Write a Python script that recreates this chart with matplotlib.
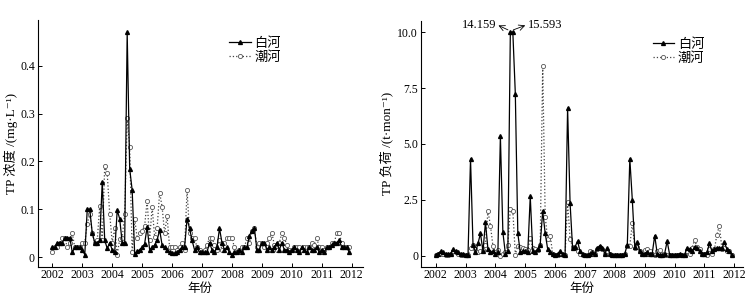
import numpy as np
import matplotlib
matplotlib.use('Agg')
import matplotlib.pyplot as plt

plt.rcParams['font.family'] = ['Liberation Serif', 'Noto Sans CJK SC', 'DejaVu Sans']

# monthly data, Jan 2002 - Dec 2011
months = 2002 + np.arange(120) / 12.0

# TP concentration (mg/L)
bai_conc = [0.02, 0.02, 0.03, 0.03, 0.03, 0.04, 0.04, 0.04, 0.01, 0.02, 0.02, 0.02,
            0.015, 0.005, 0.10, 0.10, 0.05, 0.03, 0.03, 0.035, 0.157, 0.035, 0.018, 0.03,
            0.015, 0.01, 0.098, 0.08, 0.03, 0.03, 0.47, 0.185, 0.14, 0.007, 0.012, 0.015,
            0.02, 0.028, 0.063, 0.015, 0.02, 0.025, 0.035, 0.057, 0.025, 0.02, 0.015, 0.01,
            0.008, 0.008, 0.01, 0.015, 0.02, 0.02, 0.08, 0.06, 0.035, 0.015, 0.02, 0.01,
            0.01, 0.01, 0.01, 0.03, 0.015, 0.01, 0.02, 0.06, 0.03, 0.015, 0.02, 0.01,
            0.005, 0.01, 0.01, 0.015, 0.01, 0.02, 0.02, 0.045, 0.055, 0.06, 0.015, 0.015,
            0.03, 0.03, 0.015, 0.02, 0.015, 0.02, 0.03, 0.015, 0.03, 0.015, 0.015, 0.01,
            0.015, 0.02, 0.015, 0.01, 0.02, 0.015, 0.01, 0.02, 0.015, 0.015, 0.02, 0.01,
            0.015, 0.01, 0.02, 0.02, 0.025, 0.03, 0.03, 0.035, 0.02, 0.02, 0.02, 0.01]
chao_conc = [0.01, 0.02, 0.02, 0.03, 0.04, 0.04, 0.02, 0.03, 0.05, 0.02, 0.02, 0.02,
             0.03, 0.03, 0.07, 0.09, 0.05, 0.03, 0.035, 0.107, 0.035, 0.19, 0.175, 0.09,
             0.03, 0.06, 0.005, 0.037, 0.04, 0.09, 0.29, 0.23, 0.01, 0.08, 0.04, 0.05,
             0.055, 0.065, 0.118, 0.035, 0.105, 0.042, 0.06, 0.135, 0.105, 0.05, 0.085, 0.02,
             0.02, 0.02, 0.015, 0.02, 0.03, 0.015, 0.14, 0.05, 0.04, 0.04, 0.02, 0.015,
             0.01, 0.015, 0.025, 0.04, 0.04, 0.025, 0.015, 0.035, 0.015, 0.03, 0.04, 0.04,
             0.04, 0.02, 0.01, 0.015, 0.02, 0.02, 0.04, 0.03, 0.055, 0.06, 0.02, 0.03,
             0.03, 0.02, 0.03, 0.04, 0.05, 0.025, 0.015, 0.03, 0.05, 0.04, 0.025, 0.015,
             0.015, 0.02, 0.02, 0.02, 0.015, 0.02, 0.02, 0.02, 0.03, 0.025, 0.04, 0.02,
             0.02, 0.015, 0.02, 0.02, 0.03, 0.03, 0.05, 0.05, 0.03, 0.02, 0.02, 0.02]

# TP load (t/mon)
bai_load = [0.05, 0.1, 0.2, 0.15, 0.1, 0.1, 0.1, 0.3, 0.2, 0.15, 0.1, 0.1,
            0.05, 0.05, 4.33, 0.5, 0.15, 0.55, 1.0, 0.2, 1.5, 0.3, 0.15, 0.2,
            0.1, 0.15, 5.35, 1.05, 0.1, 0.2, 14.159, 15.593, 7.25, 1.0, 0.15, 0.2,
            0.2, 0.15, 2.65, 0.2, 0.15, 0.3, 0.5, 2.0, 1.0, 0.3, 0.15, 0.1,
            0.05, 0.1, 0.2, 0.1, 0.05, 6.6, 2.35, 0.35, 0.4, 0.65, 0.2, 0.1,
            0.05, 0.05, 0.1, 0.15, 0.1, 0.35, 0.45, 0.35, 0.1, 0.35, 0.1, 0.05,
            0.05, 0.05, 0.05, 0.05, 0.1, 0.5, 4.33, 2.5, 0.4, 0.6, 0.2, 0.1,
            0.1, 0.15, 0.1, 0.1, 0.9, 0.1, 0.05, 0.05, 0.1, 0.65, 0.05, 0.05,
            0.05, 0.05, 0.1, 0.05, 0.05, 0.35, 0.3, 0.2, 0.4, 0.35, 0.2, 0.1,
            0.1, 0.15, 0.55, 0.2, 0.3, 0.35, 0.35, 0.35, 0.6, 0.3, 0.2, 0.05]
chao_load = [0.05, 0.1, 0.1, 0.1, 0.05, 0.05, 0.1, 0.2, 0.15, 0.1, 0.05, 0.05,
             0.05, 0.05, 0.35, 0.5, 0.3, 0.15, 0.2, 0.25, 0.5, 2.0, 1.35, 0.45,
             0.15, 0.25, 0.0, 0.1, 0.15, 0.5, 2.1, 2.0, 0.05, 0.45, 0.4, 0.35,
             0.3, 0.25, 0.8, 0.35, 0.3, 0.25, 0.5, 8.5, 1.75, 0.75, 0.9, 0.1,
             0.05, 0.05, 0.1, 0.05, 0.05, 2.4, 0.75, 0.4, 0.35, 0.2, 0.1, 0.05,
             0.05, 0.05, 0.2, 0.15, 0.1, 0.3, 0.4, 0.3, 0.1, 0.2, 0.1, 0.05,
             0.05, 0.05, 0.05, 0.05, 0.1, 0.45, 0.45, 1.45, 0.35, 0.4, 0.2, 0.1,
             0.25, 0.3, 0.2, 0.1, 0.05, 0.2, 0.25, 0.1, 0.05, 0.05, 0.05, 0.05,
             0.05, 0.05, 0.05, 0.05, 0.05, 0.2, 0.1, 0.35, 0.7, 0.4, 0.3, 0.1,
             0.1, 0.05, 0.3, 0.1, 0.3, 0.95, 1.35, 0.3, 0.35, 0.2, 0.2, 0.05]

years = list(range(2002, 2013))
load_cap = 10.0   # the load axis is cut at 10

fig = plt.figure(figsize=(7.5, 2.99), dpi=100)
ax1 = fig.add_axes([0.0503, 0.108, 0.4333, 0.825])
ax2 = fig.add_axes([0.5613, 0.108, 0.429, 0.822])


def style(ax):
	ax.spines['top'].set_visible(False)
	ax.spines['right'].set_visible(False)
	for s in ('left', 'bottom'):
		ax.spines[s].set_linewidth(0.8)
	ax.tick_params(direction='in', length=3, width=0.7, labelsize=8.5, pad=2)
	ax.set_xticks(years)
	ax.set_xticklabels([str(y) for y in years])
	ax.set_xlabel('年份', fontsize=9, labelpad=1)


def draw(ax, bai, chao, lx):
	ax.plot(months, chao, linestyle=':', color='#444444', linewidth=0.9,
			marker='o', markersize=3, markerfacecolor='white',
			markeredgecolor='#555555', markeredgewidth=0.6, label='潮河', zorder=2)
	ax.plot(months, bai, linestyle='-', color='black', linewidth=0.9,
			marker='^', markersize=2.8, markerfacecolor='black',
			markeredgecolor='black', label='白河', zorder=3)
	h, l = ax.get_legend_handles_labels()
	ax.legend(h[::-1], l[::-1], frameon=False, fontsize=9.5, handlelength=1.6,
			  handletextpad=0.3, labelspacing=0.1, borderaxespad=0.0,
			  borderpad=0.0, loc='upper left', bbox_to_anchor=(lx, 0.93))


# left: concentration
draw(ax1, bai_conc, chao_conc, 0.59)
style(ax1)
ax1.set_xlim(2001.512, 2012.367)
ax1.set_ylim(-0.0203, 0.496)
ax1.set_yticks([0, 0.1, 0.2, 0.3, 0.4])
ax1.set_yticklabels(['0', '0.1', '0.2', '0.3', '0.4'])
ax1.set_ylabel('TP 浓度 /(mg·L⁻¹)', fontsize=9.5)
ax1.yaxis.set_label_coords(-0.06, 0.5)

# right: load
draw(ax2, np.minimum(bai_load, load_cap), np.minimum(chao_load, load_cap), 0.72)
style(ax2)
ax2.set_xlim(2001.508, 2012.28)
ax2.set_ylim(-0.49, 10.5)
ax2.set_yticks([0, 2.5, 5.0, 7.5, 10.0])
ax2.set_yticklabels(['0', '2.5', '5.0', '7.5', '10.0'])
ax2.set_ylabel('TP 负荷 /(t·mon⁻¹)', fontsize=9.5)
ax2.yaxis.set_label_coords(-0.087, 0.5)

# labels for the two cut-off peaks
arr = dict(arrowstyle='->', color='black', lw=0.6, shrinkA=0, shrinkB=0)
ax2.annotate('', xy=(2004.1, 10.3), xytext=(2004.42, 10.1), arrowprops=arr)
ax2.annotate('', xy=(2005.0, 10.3), xytext=(2004.6, 10.1), arrowprops=arr)
ax2.text(2004.02, 10.3, '%.3f' % bai_load[30], ha='right', va='center', fontsize=9)
ax2.text(2005.08, 10.3, '%.3f' % bai_load[31], ha='left', va='center', fontsize=9)

fig.savefig('out.png', dpi=100)
